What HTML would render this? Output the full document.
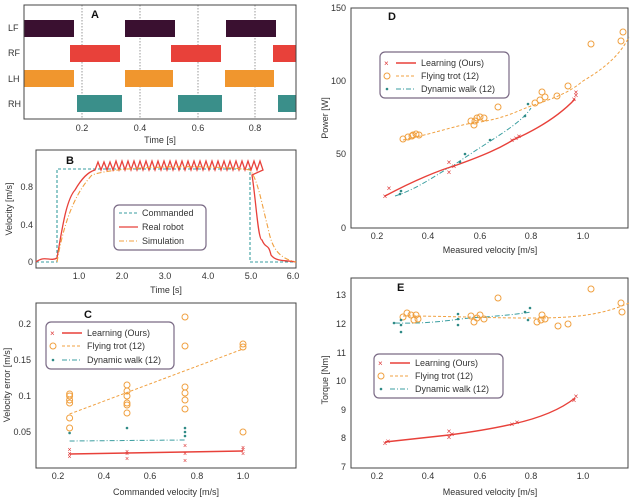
<!DOCTYPE html>
<html><head><meta charset="utf-8"><style>
body{margin:0;background:#fff}
svg{display:block;font-family:"Liberation Sans","DejaVu Sans",sans-serif;font-size:9px;fill:#333}
.ax{fill:none;stroke:#444;stroke-width:1}
.g{stroke:#555;stroke-width:.6;stroke-dasharray:1.5 1.5}
.lg{fill:#fff;stroke:#7a6a85;stroke-width:1.2}
.t{text-anchor:middle}
</style></head><body>
<svg width="640" height="499" viewBox="0 0 640 499">
<!-- Panel A -->
<line class="g" x1="82" y1="5" x2="82" y2="119"/><line class="g" x1="140" y1="5" x2="140" y2="119"/>
<line class="g" x1="198" y1="5" x2="198" y2="119"/><line class="g" x1="255" y1="5" x2="255" y2="119"/>
<g fill="#3a1030"><rect x="24" y="20" width="50" height="17"/><rect x="125" y="20" width="50" height="17"/><rect x="226" y="20" width="50" height="17"/></g>
<g fill="#e8413a"><rect x="70" y="45" width="50" height="17"/><rect x="171" y="45" width="50" height="17"/><rect x="273" y="45" width="23" height="17"/></g>
<g fill="#f0962e"><rect x="24" y="70" width="50" height="17"/><rect x="125" y="70" width="48" height="17"/><rect x="225" y="70" width="49" height="17"/></g>
<g fill="#3a8f8a"><rect x="77" y="95" width="45" height="17"/><rect x="178" y="95" width="44" height="17"/><rect x="278" y="95" width="18" height="17"/></g>
<rect class="ax" x="24" y="5" width="272" height="114"/>
<text x="8" y="31">LF</text><text x="8" y="56">RF</text><text x="8" y="82">LH</text><text x="8" y="107">RH</text>
<text x="91" y="18" style="font-weight:bold;font-size:11px;fill:#111">A</text>
<text class="t" x="82" y="131">0.2</text><text class="t" x="140" y="131">0.4</text><text class="t" x="198" y="131">0.6</text><text class="t" x="255" y="131">0.8</text>
<text class="t" x="160" y="143">Time [s]</text>
<!-- Panel B -->
<rect class="ax" x="36" y="150" width="260" height="118"/>
<text x="66" y="164" style="font-weight:bold;font-size:11px;fill:#111">B</text>
<path d="M36,262 L57,262 L57,169 L250,169 L250,262 L296,262" fill="none" stroke="#3a9ea0" stroke-width="1.1" stroke-dasharray="3 2"/>
<path d="M36,262 C45,255 50,262 57,258 C62,230 66,200 75,190 C82,178 88,172 95,170 l3,-8 l3,8 l3,-8 l3,8 l3,-8 l3,8 l3,-9 l3,9 l3,-9 l3,9 l3,-9 l3,9 l3,-9 l3,9 l3,-9 l3,9 l3,-9 l3,9 l3,-9 l3,9 l3,-9 l3,9 l3,-9 l3,9 l3,-9 l3,9 l3,-9 l3,9 l3,-9 l3,9 l3,-9 l3,9 l3,-9 l3,9 l3,-9 l3,9 l3,-9 l3,9 l3,-9 l3,9 l3,-9 l3,9 l3,-9 l3,9 l3,-9 l3,9 l3,-9 l3,9 l3,-9 l3,9 l3,-9 l3,9 l3,-9 l3,9 l3,-9 l3,9 L252,175 C256,200 258,240 262,240 C266,250 268,242 271,255 C276,262 286,260 296,262" fill="none" stroke="#e8413a" stroke-width="1.3"/>
<path d="M57,262 C65,215 78,190 92,175 C120,165 220,165 250,170 C258,180 262,205 268,228 C272,248 278,258 296,262" fill="none" stroke="#f0a040" stroke-width="1.1" stroke-dasharray="5 2 1 2"/>
<g class="t"><text x="79" y="279">1.0</text><text x="122" y="279">2.0</text><text x="165" y="279">3.0</text><text x="208" y="279">4.0</text><text x="251" y="279">5.0</text><text x="293" y="279">6.0</text></g>
<g text-anchor="end"><text x="33" y="265">0</text><text x="33" y="228">0.4</text><text x="33" y="190">0.8</text></g>
<text class="t" x="166" y="293">Time [s]</text>
<text class="t" transform="translate(12,209) rotate(-90)">Velocity [m/s]</text>
<rect class="lg" x="114" y="205" width="92" height="45" rx="5"/>
<line x1="119" y1="213" x2="138" y2="213" stroke="#3a9ea0" stroke-dasharray="3 2"/><text x="142" y="216">Commanded</text>
<line x1="119" y1="227" x2="138" y2="227" stroke="#e8413a" stroke-width="1.3"/><text x="142" y="230">Real robot</text>
<line x1="119" y1="241" x2="138" y2="241" stroke="#f0a040" stroke-dasharray="5 2 1 2"/><text x="142" y="244">Simulation</text>
<!-- Panel C -->
<rect class="ax" x="36" y="303" width="260" height="165"/>
<text x="84" y="318" style="font-weight:bold;font-size:11px;fill:#111">C</text>
<line x1="69.6" y1="414" x2="243" y2="349" stroke="#f0a040" stroke-dasharray="3 2"/>
<polyline points="69.6,441 185,440 185,439" fill="none" stroke="#3a9ea0" stroke-dasharray="5 2 1 2"/>
<line x1="69.6" y1="454" x2="243" y2="451" stroke="#e8413a" stroke-width="1.4"/>
<g fill="none" stroke="#f0a040" stroke-width="1">
<circle cx="69.6" cy="418" r="3"/><circle cx="69.6" cy="428" r="3"/><circle cx="69.6" cy="403" r="3"/><circle cx="69.6" cy="400" r="3"/><circle cx="69.6" cy="396" r="3"/><circle cx="69.6" cy="394" r="3"/>
<circle cx="127" cy="413" r="3"/><circle cx="127" cy="405" r="3"/><circle cx="127" cy="403" r="3"/><circle cx="127" cy="396" r="3"/><circle cx="127" cy="391" r="3"/><circle cx="127" cy="385" r="3"/>
<circle cx="185" cy="409" r="3"/><circle cx="185" cy="400" r="3"/><circle cx="185" cy="393" r="3"/><circle cx="185" cy="387" r="3"/><circle cx="185" cy="346" r="3"/><circle cx="185" cy="317" r="3"/>
<circle cx="243" cy="432" r="3"/><circle cx="243" cy="347" r="3"/><circle cx="243" cy="344" r="3"/></g>
<g fill="#2f8a86"><circle cx="69.6" cy="433" r="1.3"/><circle cx="127" cy="428" r="1.3"/><circle cx="185" cy="436" r="1.3"/><circle cx="185" cy="432" r="1.3"/><circle cx="185" cy="428" r="1.3"/></g>
<g fill="#d33" font-size="7" class="t"><text x="69.6" y="459">×</text><text x="69.6" y="456">×</text><text x="69.6" y="452">×</text><text x="127" y="461">×</text><text x="127" y="456">×</text><text x="127" y="454">×</text><text x="185" y="463">×</text><text x="185" y="456">×</text><text x="185" y="448">×</text><text x="243" y="456">×</text><text x="243" y="452">×</text><text x="243" y="450">×</text></g>
<g class="t"><text x="58" y="479">0.2</text><text x="104" y="479">0.4</text><text x="150" y="479">0.6</text><text x="197" y="479">0.8</text><text x="243" y="479">1.0</text></g>
<g text-anchor="end"><text x="31" y="327">0.2</text><text x="31" y="363">0.15</text><text x="31" y="399">0.1</text><text x="31" y="435">0.05</text></g>
<text class="t" x="166" y="495">Commanded velocity [m/s]</text>
<text class="t" transform="translate(10,385) rotate(-90)">Velocity error [m/s]</text>
<rect class="lg" x="46" y="322" width="128" height="47" rx="5"/>
<text x="50" y="336" fill="#d33" font-size="8">×</text><line x1="62" y1="333" x2="82" y2="333" stroke="#e8413a" stroke-width="1.4"/><text x="87" y="336">Learning (Ours)</text>
<circle cx="53" cy="346" r="3" fill="none" stroke="#f0a040"/><line x1="62" y1="346" x2="82" y2="346" stroke="#f0a040" stroke-dasharray="3 2"/><text x="87" y="349">Flying trot (12)</text>
<circle cx="53" cy="360" r="1.3" fill="#2f8a86"/><line x1="62" y1="360" x2="82" y2="360" stroke="#3a9ea0" stroke-dasharray="5 2 1 2"/><text x="87" y="363">Dynamic walk (12)</text>
<!-- Panel D -->
<rect class="ax" x="351" y="8" width="277" height="220"/>
<text x="388" y="20" style="font-weight:bold;font-size:11px;fill:#111">D</text>
<path d="M403,140 C440,132 460,124 480,122 C505,118 515,112 531,106 C555,98 570,92 583,81 C605,68 620,55 629,37" fill="none" stroke="#f0a040" stroke-dasharray="3 2"/>
<path d="M395,196 C420,188 440,172 454,165 C490,140 520,125 531,108" fill="none" stroke="#3a9ea0" stroke-dasharray="5 2 1 2"/>
<path d="M385,196 C415,180 440,170 454,166 C485,155 500,148 513,140 C540,128 560,115 575,99" fill="none" stroke="#e8413a" stroke-width="1.4"/>
<g fill="none" stroke="#f0a040">
<circle cx="403" cy="139" r="3"/><circle cx="408" cy="137" r="3"/><circle cx="413" cy="135" r="3"/><circle cx="416" cy="134" r="3"/><circle cx="419" cy="135" r="3"/><circle cx="412" cy="136" r="3"/>
<circle cx="471" cy="121" r="3"/><circle cx="474" cy="125" r="3"/><circle cx="477" cy="118" r="3"/><circle cx="480" cy="117" r="3"/><circle cx="484" cy="118" r="3"/><circle cx="475" cy="121" r="3"/>
<circle cx="498" cy="107" r="3"/><circle cx="535" cy="103" r="3"/><circle cx="540" cy="100" r="3"/><circle cx="542" cy="92" r="3"/><circle cx="545" cy="97" r="3"/><circle cx="557" cy="96" r="3"/><circle cx="568" cy="86" r="3"/><circle cx="591" cy="44" r="3"/><circle cx="621" cy="41" r="3"/><circle cx="623" cy="32" r="3"/></g>
<g fill="#2f8a86"><circle cx="400" cy="194" r="1.3"/><circle cx="401" cy="191" r="1.3"/><circle cx="460" cy="162" r="1.3"/><circle cx="465" cy="154" r="1.3"/><circle cx="490" cy="140" r="1.3"/><circle cx="525" cy="116" r="1.3"/><circle cx="528" cy="104" r="1.3"/></g>
<g fill="#d33" font-size="8" class="t"><text x="385" y="199">×</text><text x="389" y="191">×</text><text x="449" y="175">×</text><text x="449" y="165">×</text><text x="454" y="169">×</text><text x="512" y="143">×</text><text x="516" y="141">×</text><text x="519" y="139">×</text><text x="574" y="102">×</text><text x="576" y="98">×</text><text x="576" y="95">×</text></g>
<g class="t"><text x="377" y="239">0.2</text><text x="428" y="239">0.4</text><text x="480" y="239">0.6</text><text x="531" y="239">0.8</text><text x="583" y="239">1.0</text></g>
<g text-anchor="end"><text x="346" y="231">0</text><text x="346" y="157">50</text><text x="346" y="84">100</text><text x="346" y="11">150</text></g>
<text class="t" x="490" y="253">Measured velocity [m/s]</text>
<text class="t" transform="translate(328,118) rotate(-90)">Power [W]</text>
<rect class="lg" x="380" y="52" width="129" height="46" rx="5"/>
<text x="384" y="66" fill="#d33" font-size="8">×</text><line x1="396" y1="63" x2="416" y2="63" stroke="#e8413a" stroke-width="1.4"/><text x="421" y="66">Learning (Ours)</text>
<circle cx="387" cy="76" r="3" fill="none" stroke="#f0a040"/><line x1="396" y1="76" x2="416" y2="76" stroke="#f0a040" stroke-dasharray="3 2"/><text x="421" y="79">Flying trot (12)</text>
<circle cx="387" cy="89" r="1.3" fill="#2f8a86"/><line x1="396" y1="89" x2="416" y2="89" stroke="#3a9ea0" stroke-dasharray="5 2 1 2"/><text x="421" y="92">Dynamic walk (12)</text>
<!-- Panel E -->
<rect class="ax" x="351" y="278" width="277" height="190"/>
<text x="397" y="291" style="font-weight:bold;font-size:11px;fill:#111">E</text>
<path d="M403,316 C450,316 480,318 531,318 C570,318 600,316 629,303" fill="none" stroke="#f0a040" stroke-dasharray="3 2"/>
<path d="M395,323 C430,324 450,320 470,318 C500,316 520,314 531,312" fill="none" stroke="#3a9ea0" stroke-dasharray="5 2 1 2"/>
<path d="M385,442 C420,438 440,436 449,435 C480,431 500,427 513,424 C540,418 560,410 575,398" fill="none" stroke="#e8413a" stroke-width="1.4"/>
<g fill="none" stroke="#f0a040">
<circle cx="403" cy="317" r="3"/><circle cx="407" cy="313" r="3"/><circle cx="411" cy="315" r="3"/><circle cx="414" cy="320" r="3"/><circle cx="416" cy="315" r="3"/><circle cx="418" cy="319" r="3"/>
<circle cx="471" cy="316" r="3"/><circle cx="474" cy="322" r="3"/><circle cx="477" cy="318" r="3"/><circle cx="480" cy="315" r="3"/><circle cx="484" cy="319" r="3"/>
<circle cx="498" cy="298" r="3"/><circle cx="537" cy="322" r="3"/><circle cx="541" cy="320" r="3"/><circle cx="542" cy="315" r="3"/><circle cx="545" cy="319" r="3"/><circle cx="558" cy="326" r="3"/><circle cx="568" cy="324" r="3"/><circle cx="591" cy="289" r="3"/><circle cx="621" cy="303" r="3"/><circle cx="622" cy="312" r="3"/></g>
<g fill="#2f8a86"><circle cx="394" cy="323" r="1.3"/><circle cx="401" cy="325" r="1.3"/><circle cx="401" cy="320" r="1.3"/><circle cx="401" cy="332" r="1.3"/><circle cx="458" cy="325" r="1.3"/><circle cx="458" cy="314" r="1.3"/><circle cx="458" cy="319" r="1.3"/><circle cx="525" cy="312" r="1.3"/><circle cx="528" cy="320" r="1.3"/><circle cx="530" cy="308" r="1.3"/></g>
<g fill="#d33" font-size="8" class="t"><text x="385" y="446">×</text><text x="388" y="444">×</text><text x="449" y="440">×</text><text x="449" y="434">×</text><text x="452" y="437">×</text><text x="512" y="427">×</text><text x="517" y="425">×</text><text x="574" y="403">×</text><text x="576" y="399">×</text></g>
<g class="t"><text x="377" y="479">0.2</text><text x="428" y="479">0.4</text><text x="480" y="479">0.6</text><text x="531" y="479">0.8</text><text x="583" y="479">1.0</text></g>
<g text-anchor="end"><text x="346" y="298">13</text><text x="346" y="327">12</text><text x="346" y="356">11</text><text x="346" y="384">10</text><text x="346" y="413">9</text><text x="346" y="441">8</text><text x="346" y="470">7</text></g>
<text class="t" x="490" y="495">Measured velocity [m/s]</text>
<text class="t" transform="translate(328,380) rotate(-90)">Torque [Nm]</text>
<rect class="lg" x="374" y="354" width="129" height="44" rx="5"/>
<text x="378" y="366" fill="#d33" font-size="8">×</text><line x1="390" y1="363" x2="410" y2="363" stroke="#e8413a" stroke-width="1.4"/><text x="415" y="366">Learning (Ours)</text>
<circle cx="381" cy="376" r="3" fill="none" stroke="#f0a040"/><line x1="390" y1="376" x2="410" y2="376" stroke="#f0a040" stroke-dasharray="3 2"/><text x="415" y="379">Flying trot (12)</text>
<circle cx="381" cy="389" r="1.3" fill="#2f8a86"/><line x1="390" y1="389" x2="410" y2="389" stroke="#3a9ea0" stroke-dasharray="5 2 1 2"/><text x="415" y="392">Dynamic walk (12)</text>
</svg>
</body></html>
